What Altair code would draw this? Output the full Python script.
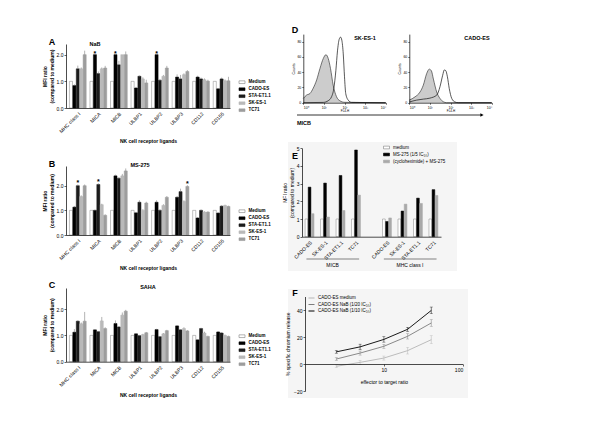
import altair as alt
import pandas as pd

OX, OY = 8, 8
W, H = 584, 408
FONT = "Liberation Sans"


def cx(v):
    return v - OX


def cy(v):
    return v - OY


# ---------------- data: panels A-C ----------------
ligands = ["MHC class I", "MICA", "MICB", "ULBP1", "ULBP2", "ULBP3", "CD112", "CD155"]
cell_lines = ["Medium", "CADO-ES", "STA-ET1.1", "SK-ES-1", "TC71"]

nab_medium = [1.0, 1.0, 1.0, 1.0, 1.0, 1.0, 1.0, 1.0]
nab_cado = [0.84, 2.0, 2.0, 0.75, 2.0, 1.16, 1.16, 0.72]
nab_sta = [1.47, 1.29, 1.62, 1.19, 1.04, 1.09, 1.09, 1.09]
nab_sk = [1.47, 1.47, 2.0, 1.09, 1.19, 1.25, 1.06, 1.02]
nab_tc = [2.0, 1.5, 2.0, 0.94, 1.5, 1.37, 1.01, 1.02]
nab_err_medium = [0, 0, 0, 0, 0, 0, 0, 0]
nab_err_cado = [0.05, 0, 0, 0.04, 0, 0.1, 0.05, 0.03]
nab_err_sta = [0.12, 0.08, 0.15, 0.03, 0.05, 0.15, 0.05, 0.05]
nab_err_sk = [0.05, 0.05, 0, 0.06, 0.05, 0.05, 0.05, 0.05]
nab_err_tc = [0.15, 0.08, 0.12, 0.12, 0.08, 0.05, 0.05, 0.15]
nab_stars = [("MICA", "CADO-ES"), ("MICB", "CADO-ES"), ("ULBP2", "CADO-ES")]

ms_medium = [1.0, 1.0, 1.0, 1.0, 1.0, 1.0, 1.0, 1.0]
ms_cado = [1.13, 1.0, 2.4, 0.9, 1.33, 1.53, 0.69, 0.89]
ms_sta = [2.0, 2.05, 2.3, 1.33, 1.0, 1.76, 1.0, 1.17]
ms_sk = [1.56, 1.23, 2.4, 1.0, 1.2, 1.36, 0.93, 1.2]
ms_tc = [2.0, 0.8, 2.6, 1.3, 1.53, 1.97, 0.93, 1.16]
ms_err_medium = [0, 0, 0, 0, 0, 0, 0, 0]
ms_err_cado = [0.05, 0.03, 0.05, 0.04, 0.08, 0.05, 0.04, 0.03]
ms_err_sta = [0.05, 0.05, 0.05, 0.08, 0.05, 0.12, 0.04, 0.04]
ms_err_sk = [0.05, 0.04, 0.08, 0.05, 0.05, 0.05, 0.03, 0.03]
ms_err_tc = [0.05, 0.04, 0.1, 0.05, 0.05, 0.05, 0.03, 0.03]
ms_stars = [("MHC class I", "STA-ET1.1"), ("MICA", "STA-ET1.1"), ("ULBP3", "TC71")]

saha_medium = [1.0, 1.0, 1.0, 1.0, 1.0, 1.0, 1.0, 1.0]
saha_cado = [1.12, 1.21, 1.45, 1.06, 1.22, 1.36, 0.83, 1.13]
saha_sta = [1.54, 1.14, 1.32, 0.99, 0.95, 1.21, 1.26, 1.09]
saha_sk = [1.44, 1.55, 1.77, 1.03, 1.06, 1.26, 1.09, 1.0]
saha_tc = [1.54, 1.26, 1.92, 1.1, 1.18, 1.17, 0.96, 0.96]
saha_err_medium = [0, 0, 0, 0, 0, 0, 0, 0]
saha_err_cado = [0.12, 0.03, 0.12, 0.03, 0.03, 0.03, 0.03, 0.03]
saha_err_sta = [0.03, 0.03, 0.03, 0.03, 0.03, 0.03, 0.03, 0.03]
saha_err_sk = [0.05, 0.15, 0.1, 0.03, 0.03, 0.05, 0.05, 0.03]
saha_err_tc = [0.35, 0.05, 0.05, 0.03, 0.03, 0.03, 0.03, 0.03]
saha_stars = []

# ---------------- data: panel D (histograms) ----------------
d_sk_iso_decade = [0.0, 0.16, 0.32, 0.48, 0.65, 0.81, 0.97, 1.10, 1.21, 1.32, 1.45, 1.61, 1.77, 2.02, 4.0]
d_sk_iso_count = [5.6, 10, 12, 19, 30, 45, 58, 63, 58, 45, 23, 8, 2.6, 0.5, 0]
d_sk_micb_decade = [0.0, 0.97, 1.21, 1.37, 1.48, 1.58, 1.66, 1.74, 1.81, 1.87, 1.94, 2.0, 2.06, 2.18, 2.34, 4.0]
d_sk_micb_count = [0, 0.4, 2.6, 7.7, 18.5, 42, 68, 83, 86, 82, 64, 34, 12, 3.4, 0.4, 0]
d_cado_iso_decade = [0.0, 0.28, 0.52, 0.68, 0.84, 0.97, 1.07, 1.17, 1.33, 1.49, 1.65, 1.81, 4.0]
d_cado_iso_count = [3.4, 7.7, 14, 23, 38, 44, 42, 31, 14, 5.6, 1.3, 0, 0]
d_cado_micb_decade = [0.0, 0.36, 0.68, 1.0, 1.33, 1.49, 1.62, 1.70, 1.77, 1.85, 1.94, 2.06, 2.22, 2.38, 4.0]
d_cado_micb_count = [0.9, 3.4, 4.7, 6.0, 9.9, 21, 36, 43, 42, 34, 18.5, 5.6, 0.9, 0, 0]

# ---------------- data: panel E ----------------
e_groups = ["MICB", "MHC class I"]
e_items = ["CADO-ES", "SK-ES-1", "STA-ET1.1", "TC71"]
e_series = ["medium", "MS-275 (1/5 IC₅₀)", "(cycloheximide) + MS-275"]
e_micb_medium = [1.0, 1.0, 1.0, 1.0]
e_micb_ms275 = [2.8, 3.03, 3.46, 4.9]
e_micb_combo = [1.3, 1.11, 1.48, 2.35]
e_mhc_medium = [1.0, 1.0, 1.0, 1.0]
e_mhc_ms275 = [0.86, 1.45, 2.18, 2.66]
e_mhc_combo = [1.06, 1.84, 1.88, 2.33]

# ---------------- data: panel F ----------------
f_ratio = [2.5, 5, 10, 20, 40]
f_series = ["CADO-ES medium", "CADO-ES NaB (1/20 IC₅₀)", "CADO-ES NaB (1/10 IC₅₀)"]
f_medium = [-1.7, 1.2, 4.4, 9.9, 18.0]
f_nab20 = [3.7, 8.1, 13.1, 20.5, 30.4]
f_nab10 = [9.0, 12.7, 18.2, 25.7, 39.7]
f_medium_err = [1.0, 1.5, 1.5, 2.5, 3.0]
f_nab20_err = [1.0, 1.5, 1.5, 2.0, 2.5]
f_nab10_err = [1.0, 2.0, 2.0, 1.5, 2.5]


# ---------------- helpers ----------------
def label(text, x, y, size=5, bold=False, align="center", angle=0, baseline="middle"):
    return alt.Chart(pd.DataFrame({"t": [text]})).mark_text(
        align=align, baseline=baseline, fontSize=size, angle=angle,
        fontWeight="bold" if bold else "normal", font=FONT, color="black"
    ).encode(x=alt.value(cx(x)), y=alt.value(cy(y)), text="t:N")


def backdrop(x0, x1, y0, y1):
    return alt.Chart(pd.DataFrame({"a": [0]})).mark_rect(fill="#f5f5f5", stroke=None).encode(
        x=alt.value(cx(x0)), x2=alt.value(cx(x1)), y=alt.value(cy(y0)), y2=alt.value(cy(y1)))


def bar_df(vals, errs):
    rows = []
    for c, vs, es in zip(cell_lines, vals, errs):
        for g, v, e in zip(ligands, vs, es):
            rows.append({"ligand": g, "cell": c, "key": g + "|" + c,
                         "value": v, "err": e, "hi": v + e})
    return pd.DataFrame(rows)


bar_keys = []
for g in ligands:
    bar_keys.append(g + "|gap")
    bar_keys += [g + "|" + c for c in cell_lines]

fill_range = ["white", "black", "#1c1c1c", "#b9b9b9", "#9d9d9d"]
stroke_range = ["#808080", "black", "#1c1c1c", "#b9b9b9", "#9d9d9d"]
rect_sym = "M-1,-0.45H1V0.45H-1Z"


def bar_panel(vals, errs, stars, ymax, ybot, ytop, legend_y):
    df = bar_df(vals, errs)
    xs = alt.Scale(domain=bar_keys, range=[cx(66), cx(230)], paddingInner=0.1, paddingOuter=0)
    ys = alt.Scale(domain=[0, ymax], range=[cy(ybot), cy(ytop)], clamp=True, nice=False, zero=True)
    xaxis = alt.Axis(
        orient="bottom", offset=cy(ybot) - H, ticks=False, labelOverlap=False, zindex=1,
        labelExpr="split(datum.value,'|')[1]=='STA-ET1.1' ? split(datum.value,'|')[0] : ''",
        labelAngle=-45, labelPadding=3, title="NK cell receptor ligands", titlePadding=5,
        titleFontWeight="bold")
    yaxis = alt.Axis(orient="left", offset=-cx(66), values=[0, 1, 2], title=["MFI ratio", "(compared to medium)"],
                     titlePadding=2, titleFontWeight="bold", zindex=1)
    leg = alt.Legend(orient="none", legendX=cx(238.5), legendY=cy(legend_y) - 3, title=None,
                     symbolType=rect_sym, symbolSize=36, labelFontSize=4.5, rowPadding=0,
                     labelOffset=3, symbolStrokeWidth=0.6, labelFontWeight="bold")
    bars = alt.Chart(df).mark_bar(strokeWidth=0.5).encode(
        x=alt.X("key:N", scale=xs, axis=xaxis),
        y=alt.Y("value:Q", scale=ys, axis=yaxis),
        fill=alt.Fill("cell:N", scale=alt.Scale(domain=cell_lines, range=fill_range), legend=leg),
        stroke=alt.Stroke("cell:N", scale=alt.Scale(domain=cell_lines, range=stroke_range), legend=leg),
    )
    err = alt.Chart(df[(df["err"] > 0) & (df["value"] < ymax - 0.05)]).mark_rule(
        color="#666", strokeWidth=0.5).encode(
        x=alt.X("key:N"), y=alt.Y("value:Q"), y2="hi:Q")
    layers = [bars, err]
    if stars:
        sdf = df[[(r["ligand"], r["cell"]) in stars for _, r in df.iterrows()]].copy()
        sdf["star"] = "*"
        st = alt.Chart(sdf).mark_text(fontSize=7, fontWeight="bold", dy=-1, baseline="middle",
                                      font=FONT).encode(
            x=alt.X("key:N"), y=alt.Y("hi:Q"), text="star:N")
        layers.append(st)
    return alt.layer(*layers)


panel_a = bar_panel([nab_medium, nab_cado, nab_sta, nab_sk, nab_tc],
                    [nab_err_medium, nab_err_cado, nab_err_sta, nab_err_sk, nab_err_tc],
                    nab_stars, 2.4, 108, 44, 81.7)
panel_b = bar_panel([ms_medium, ms_cado, ms_sta, ms_sk, ms_tc],
                    [ms_err_medium, ms_err_cado, ms_err_sta, ms_err_sk, ms_err_tc],
                    ms_stars, 2.8, 235, 166, 210.7)
panel_c = bar_panel([saha_medium, saha_cado, saha_sta, saha_sk, saha_tc],
                    [saha_err_medium, saha_err_cado, saha_err_sta, saha_err_sk, saha_err_tc],
                    saha_stars, 2.8, 361.7, 288, 335.7)


# ---------------- panel D ----------------
def hist_panel(iso_d, iso_c, micb_d, micb_c, x0, x1):
    iso = pd.DataFrame({"decade": iso_d, "count": iso_c})
    micb = pd.DataFrame({"decade": micb_d, "count": micb_c})
    xs = alt.Scale(domain=[0, 4], range=[cx(x0), cx(x1)], nice=False)
    ys = alt.Scale(domain=[0, 90], range=[cy(102.7), cy(34.1)], nice=False)
    xaxis = alt.Axis(orient="bottom", offset=cy(102.7) - H, values=[0, 1, 2, 3, 4], zindex=1,
                     labelExpr="'10' + ['⁰','¹','²','³','⁴'][datum.value]", labelFontSize=3.5,
                     title="FL4-H", titleFontSize=3, titlePadding=1, tickSize=1.5)
    yaxis = alt.Axis(orient="left", offset=-cx(x0), values=[0, 20, 40, 60, 80], labelFontSize=3.5,
                     title="Counts", titleFontSize=3.5, titlePadding=1, tickSize=1.5, zindex=1)
    area = alt.Chart(iso).mark_area(color="#cccccc", interpolate="monotone").encode(
        x=alt.X("decade:Q", scale=xs, axis=xaxis), y=alt.Y("count:Q", scale=ys, axis=yaxis))
    iso_line = alt.Chart(iso).mark_line(color="#222", strokeWidth=0.6, interpolate="monotone").encode(
        x=alt.X("decade:Q"), y=alt.Y("count:Q"))
    micb_line = alt.Chart(micb).mark_line(color="#111", strokeWidth=0.7, interpolate="monotone").encode(
        x=alt.X("decade:Q"), y=alt.Y("count:Q"))
    return alt.layer(area, iso_line, micb_line)


panel_d1 = hist_panel(d_sk_iso_decade, d_sk_iso_count, d_sk_micb_decade, d_sk_micb_count, 303.3, 385.7)
panel_d2 = hist_panel(d_cado_iso_decade, d_cado_iso_count, d_cado_micb_decade, d_cado_micb_count, 409.3, 491.7)

arrow_line = alt.Chart(pd.DataFrame({"a": [0]})).mark_rule(color="black", strokeWidth=0.8).encode(
    x=alt.value(cx(297)), x2=alt.value(cx(481)), y=alt.value(cy(115)))
arrow_head = alt.Chart(pd.DataFrame({"a": [0]})).mark_point(
    shape="triangle-right", filled=True, size=14, color="black", opacity=1).encode(
    x=alt.value(cx(482)), y=alt.value(cy(115)))

# ---------------- panel E ----------------
e_codes = ["g1", "s0", "s1", "s2", "g2"]
e_keys = []
for gi, grp in enumerate(e_groups):
    for it in e_items:
        e_keys += [grp + "|" + it + "|" + c for c in e_codes]
    if gi == 0:
        e_keys += ["sp|sp|" + str(k) for k in range(5)]

e_rows = []
for grp, vals in zip(e_groups, [[e_micb_medium, e_micb_ms275, e_micb_combo],
                                [e_mhc_medium, e_mhc_ms275, e_mhc_combo]]):
    for si, (s, vs) in enumerate(zip(e_series, vals)):
        for it, v in zip(e_items, vs):
            e_rows.append({"key": grp + "|" + it + "|s" + str(si), "series": s, "value": v})
e_df = pd.DataFrame(e_rows)

e_xs = alt.Scale(domain=e_keys, range=[cx(302), cx(441)], paddingInner=0.12, paddingOuter=0)
e_ys = alt.Scale(domain=[0, 5], range=[cy(236.7), cy(148.2)], nice=False, clamp=True)
e_leg = alt.Legend(orient="none", legendX=cx(383), legendY=cy(144), title=None,
                   symbolType=rect_sym, symbolSize=36, labelFontSize=4.5,
                   rowPadding=0, labelOffset=3, symbolStrokeWidth=0.6)
e_bars = alt.Chart(e_df).mark_bar(strokeWidth=0.5).encode(
    x=alt.X("key:N", scale=e_xs, axis=alt.Axis(
        orient="bottom", offset=cy(236.7) - H, ticks=False, labelOverlap=False, labelAngle=-45,
        labelPadding=3, title=None, zindex=1,
        labelExpr="split(datum.value,'|')[2]=='s1' ? split(datum.value,'|')[1] : ''")),
    y=alt.Y("value:Q", scale=e_ys, axis=alt.Axis(
        orient="left", offset=-cx(302), values=[0, 1, 2, 3, 4, 5], zindex=1,
        title=["MFI ratio", "(compared to medium)"], titlePadding=2)),
    fill=alt.Fill("series:N", scale=alt.Scale(domain=e_series, range=["white", "black", "#a9a9a9"]),
                  legend=e_leg),
    stroke=alt.Stroke("series:N", scale=alt.Scale(domain=e_series, range=["#808080", "black", "#a9a9a9"]),
                      legend=e_leg),
)
e_grp_df = pd.DataFrame({
    "group": e_groups,
    "first": [g + "|" + e_items[0] + "|s0" for g in e_groups],
    "last": [g + "|" + e_items[-1] + "|s2" for g in e_groups],
    "mid": [g + "|" + e_items[1] + "|g2" for g in e_groups],
})
e_grp_rule = alt.Chart(e_grp_df).mark_rule(color="#333", strokeWidth=0.6).encode(
    x=alt.X("first:N", scale=e_xs), x2="last:N", y=alt.value(cy(259)))
e_grp_text = alt.Chart(e_grp_df).mark_text(fontSize=5, font=FONT, baseline="middle").encode(
    x=alt.X("mid:N", scale=e_xs, bandPosition=1), y=alt.value(cy(265)), text="group:N")
panel_e = alt.layer(e_bars, e_grp_rule, e_grp_text)

# ---------------- panel F ----------------
f_rows = []
for s, vs, es in zip(f_series, [f_medium, f_nab20, f_nab10], [f_medium_err, f_nab20_err, f_nab10_err]):
    for r, v, e in zip(f_ratio, vs, es):
        f_rows.append({"ratio": r, "series": s, "value": v, "lo": v - e, "hi": v + e})
f_df = pd.DataFrame(f_rows)
f_xs = alt.Scale(type="log", domain=[1, 100], range=[cx(305), cx(462.7)], nice=False)
f_ys = alt.Scale(domain=[-20, 50], range=[cy(391), cy(296.5)], nice=False, zero=False)
f_colors = alt.Scale(domain=f_series, range=["#b5b5b5", "#7d7d7d", "black"])
f_lines = alt.Chart(f_df).mark_line(strokeWidth=0.9).encode(
    x=alt.X("ratio:Q", scale=f_xs, axis=alt.Axis(
        orient="bottom", offset=cy(364) - H, values=[10, 100], format="d", zindex=1,
        title="effector to target ratio", titlePadding=7)),
    y=alt.Y("value:Q", scale=f_ys, axis=alt.Axis(
        orient="left", offset=-cx(305), values=[-20, 0, 20, 40], zindex=1,
        title="% specific chromium release", titlePadding=3)),
    color=alt.Color("series:N", scale=f_colors, legend=alt.Legend(
        orient="none", legendX=cx(308), legendY=cy(294.5), title=None, symbolType="stroke",
        symbolSize=36, symbolStrokeWidth=1, labelFontSize=4.5, rowPadding=0.5, labelOffset=3)),
)
f_err = alt.Chart(f_df).mark_rule(strokeWidth=0.5).encode(
    x=alt.X("ratio:Q"), y=alt.Y("lo:Q"), y2="hi:Q",
    color=alt.Color("series:N", scale=f_colors, legend=None))
f_cap_hi = alt.Chart(f_df).mark_tick(orient="horizontal", size=3, thickness=0.5).encode(
    x=alt.X("ratio:Q"), y=alt.Y("hi:Q"),
    color=alt.Color("series:N", scale=f_colors, legend=None))
f_cap_lo = alt.Chart(f_df).mark_tick(orient="horizontal", size=3, thickness=0.5).encode(
    x=alt.X("ratio:Q"), y=alt.Y("lo:Q"),
    color=alt.Color("series:N", scale=f_colors, legend=None))
panel_f = alt.layer(f_lines, f_err, f_cap_hi, f_cap_lo)

# ---------------- annotations ----------------
annotations = [
    label("A", 52, 42, size=9, bold=True),
    label("NaB", 95, 44, size=5.5, bold=True),
    label("B", 52, 164, size=9, bold=True),
    label("MS-275", 140, 165, size=5.5, bold=True),
    label("C", 52, 285, size=9, bold=True),
    label("SAHA", 148, 287, size=5.5, bold=True),
    label("D", 295, 30, size=9, bold=True),
    label("SK-ES-1", 365, 38, size=5.5, bold=True),
    label("CADO-ES", 477, 38, size=5.5, bold=True),
    label("MICB", 297, 123, size=5.5, bold=True, align="left"),
    label("E", 295, 156, size=9, bold=True),
    label("F", 295, 293, size=9, bold=True),
]

chart = alt.layer(
    backdrop(288, 457, 142, 271), backdrop(288, 468, 289, 398),
    panel_a, panel_b, panel_c, panel_d1, panel_d2, arrow_line, arrow_head, panel_e, panel_f,
    *annotations
).resolve_scale(
    x="independent", y="independent", fill="independent", stroke="independent", color="independent"
).resolve_axis(
    x="independent", y="independent"
).resolve_legend(
    fill="independent", stroke="independent", color="independent"
).properties(
    width=W, height=H, padding=0, autosize=alt.AutoSizeParams(type="none"),
    background="white"
).configure(
    font=FONT
).configure_view(
    stroke=None
).configure_axis(
    grid=False, labelFontSize=5, titleFontSize=5, tickSize=2, tickWidth=0.6, domainWidth=0.7,
    domainColor="black", tickColor="black", labelColor="black", titleColor="black",
    labelPadding=1, labelFont=FONT, titleFont=FONT, titleFontWeight="normal"
).configure_legend(
    labelFont=FONT, labelColor="black", padding=0
)

chart.save("out.html", embed_options={"renderer": "svg", "actions": False})
